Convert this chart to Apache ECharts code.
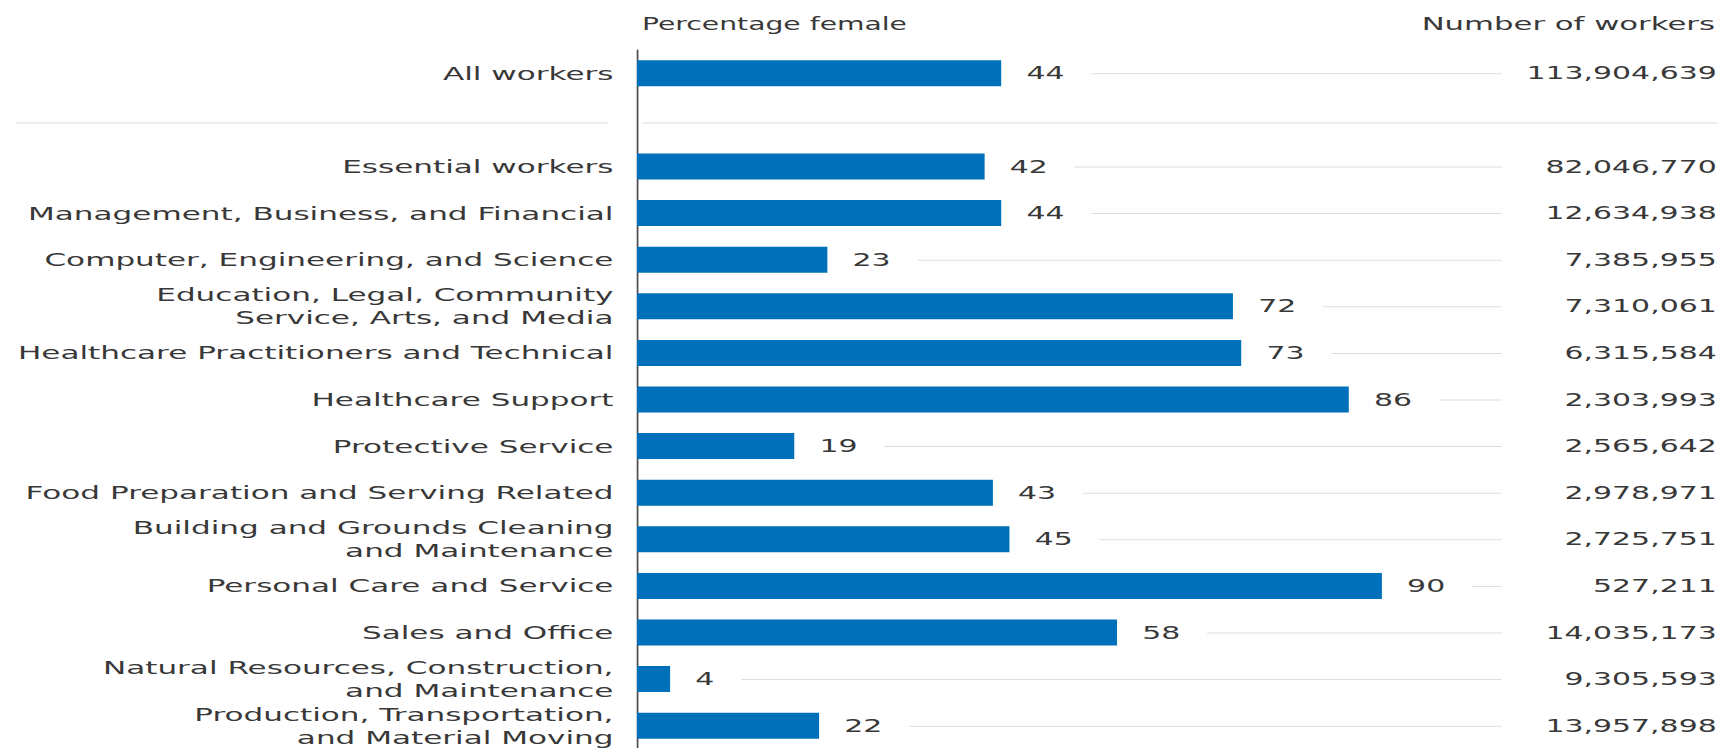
<!DOCTYPE html>
<html>
<head>
<meta charset="utf-8">
<script src="https://cdn.jsdelivr.net/npm/echarts@6/dist/echarts.min.js"></script>
<style>
  html, body { margin: 0; padding: 0; background: #fff; overflow: hidden; }
  #wrap { width: 1723px; height: 748px; overflow: hidden; position: relative; }
  #chart { height: 748px; transform-origin: 0 0; }
</style>
</head>
<body>
<div id="wrap"><div id="chart"></div></div>
<script>
// Occupation groups (an empty slot separates the overall total from the rest)
const categories = [
  'All workers',
  '',
  'Essential workers',
  'Management, Business, and Financial',
  'Computer, Engineering, and Science',
  'Education, Legal, Community\nService, Arts, and Media',
  'Healthcare Practitioners and Technical',
  'Healthcare Support',
  'Protective Service',
  'Food Preparation and Serving Related',
  'Building and Grounds Cleaning\nand Maintenance',
  'Personal Care and Service',
  'Sales and Office',
  'Natural Resources, Construction,\nand Maintenance',
  'Production, Transportation,\nand Material Moving'
];

// Share of workers who are female, in percent
const pctFemale = [44, null, 42, 44, 23, 72, 73, 86, 19, 43, 45, 90, 58, 4, 22];

// Total number of workers in each group
const workerCounts = [
  113904639, null, 82046770, 12634938, 7385955, 7310061, 6315584,
  2303993, 2565642, 2978971, 2725751, 527211, 14035173, 9305593, 13957898
];

const headerLeft = 'Percentage female';
const headerRight = 'Number of workers';

// Wide geometric lettering: lay the chart out narrower, then stretch it horizontally
const STRETCH = 1.68;
const FULL_W = 1723;
const W = FULL_W / STRETCH;
const chartEl = document.getElementById('chart');
chartEl.style.width = W + 'px';
chartEl.style.transform = 'scaleX(' + STRETCH + ')';

const FONT_FAMILY = 'DejaVu Sans';
const CAT_FONT_SIZE = 18.5;
const NUM_FONT_SIZE = 17.8;
const HEADER_LEFT_SIZE = 16.8;
const HEADER_RIGHT_SIZE = 18.3;
const TEXT_COLOR = '#383838';
const BAR_COLOR = '#0070BA';
const RULE_COLOR = '#dddddd';
const LABEL_GAP = 15;   // bar end -> value label
const LINE_GAP = 16;    // value label -> leader line
const LINE_TAIL = 22;   // leader line overshoot past the plot's right edge

const GRID_LEFT = 637 / STRETCH;
const GRID_RIGHT = W - 1464 / STRETCH;

// text width helper for placing the leader lines after the value labels
const measureCtx = document.createElement('canvas').getContext('2d');
measureCtx.font = NUM_FONT_SIZE + 'px "' + FONT_FAMILY + '"';
const textWidth = (s) => measureCtx.measureText(s).width;

const leaderData = [];
pctFemale.forEach((v, i) => { if (v != null) leaderData.push([v, i]); });
const separatorIndex = categories.indexOf('');

const chart = echarts.init(chartEl, null, { renderer: 'svg' });

chart.setOption({
  animation: false,
  backgroundColor: '#ffffff',
  textStyle: { fontFamily: FONT_FAMILY },
  grid: {
    left: GRID_LEFT,
    right: GRID_RIGHT,
    top: 50,
    height: 699,
    containLabel: false,
    outerBoundsMode: 'none'
  },
  xAxis: {
    type: 'value',
    min: 0,
    max: 100,
    show: false
  },
  yAxis: [
    {
      type: 'category',
      data: categories,
      inverse: true,
      axisLine: { show: true, lineStyle: { color: '#4a4a4a', width: 1 } },
      axisTick: { show: false },
      splitLine: { show: false },
      axisLabel: {
        margin: 14,
        color: TEXT_COLOR,
        fontFamily: FONT_FAMILY,
        fontSize: CAT_FONT_SIZE,
        lineHeight: 23,
        align: 'right'
      }
    },
    {
      type: 'category',
      position: 'right',
      data: workerCounts.map(v => v == null ? '' : v.toLocaleString('en-US')),
      inverse: true,
      axisLine: { show: false },
      axisTick: { show: false },
      splitLine: { show: false },
      axisLabel: {
        margin: 150,
        align: 'right',
        color: TEXT_COLOR,
        fontFamily: FONT_FAMILY,
        fontSize: NUM_FONT_SIZE
      }
    }
  ],
  graphic: [
    {
      type: 'text',
      x: 642 / STRETCH,
      y: 23.5,
      style: {
        text: headerLeft,
        fill: TEXT_COLOR,
        font: HEADER_LEFT_SIZE + 'px "' + FONT_FAMILY + '"',
        align: 'left',
        verticalAlign: 'middle'
      }
    },
    {
      type: 'text',
      x: 1715 / STRETCH,
      y: 23.5,
      style: {
        text: headerRight,
        fill: TEXT_COLOR,
        font: HEADER_RIGHT_SIZE + 'px "' + FONT_FAMILY + '"',
        align: 'right',
        verticalAlign: 'middle'
      }
    }
  ],
  series: [
    {
      // thin leader lines from each value label to the worker counts
      type: 'custom',
      yAxisIndex: 0,
      silent: true,
      z: 1,
      data: leaderData,
      encode: { x: 0, y: 1 },
      renderItem(params, api) {
        const v = api.value(0);
        const p = api.coord([v, api.value(1)]);
        const area = params.coordSys;
        const x1 = p[0] + LABEL_GAP + textWidth(String(v)) + LINE_GAP;
        const x2 = area.x + area.width + LINE_TAIL;
        return {
          type: 'line',
          shape: { x1: x1, y1: p[1] + 0.5, x2: x2, y2: p[1] + 0.5 },
          style: { stroke: RULE_COLOR, lineWidth: 1 }
        };
      }
    },
    {
      // horizontal rule in the empty slot under "All workers"
      type: 'custom',
      yAxisIndex: 0,
      silent: true,
      z: 1,
      data: [[0, separatorIndex]],
      encode: { x: 0, y: 1 },
      renderItem(params, api) {
        const p = api.coord([0, api.value(1)]);
        const y = p[1] + 3;
        const axisX = p[0];
        return {
          type: 'group',
          children: [
            {
              type: 'line',
              shape: { x1: 16 / STRETCH, y1: y, x2: axisX - 17, y2: y },
              style: { stroke: RULE_COLOR, lineWidth: 1 }
            },
            {
              type: 'line',
              shape: { x1: axisX + 3, y1: y, x2: 1717 / STRETCH, y2: y },
              style: { stroke: RULE_COLOR, lineWidth: 1 }
            }
          ]
        };
      }
    },
    {
      type: 'bar',
      yAxisIndex: 0,
      z: 2,
      data: pctFemale.map(v => v == null ? '-' : v),
      barWidth: 26,
      itemStyle: { color: BAR_COLOR },
      label: {
        show: true,
        position: 'right',
        distance: LABEL_GAP,
        color: TEXT_COLOR,
        fontFamily: FONT_FAMILY,
        fontSize: NUM_FONT_SIZE
      }
    }
  ]
});
</script>
</body>
</html>
